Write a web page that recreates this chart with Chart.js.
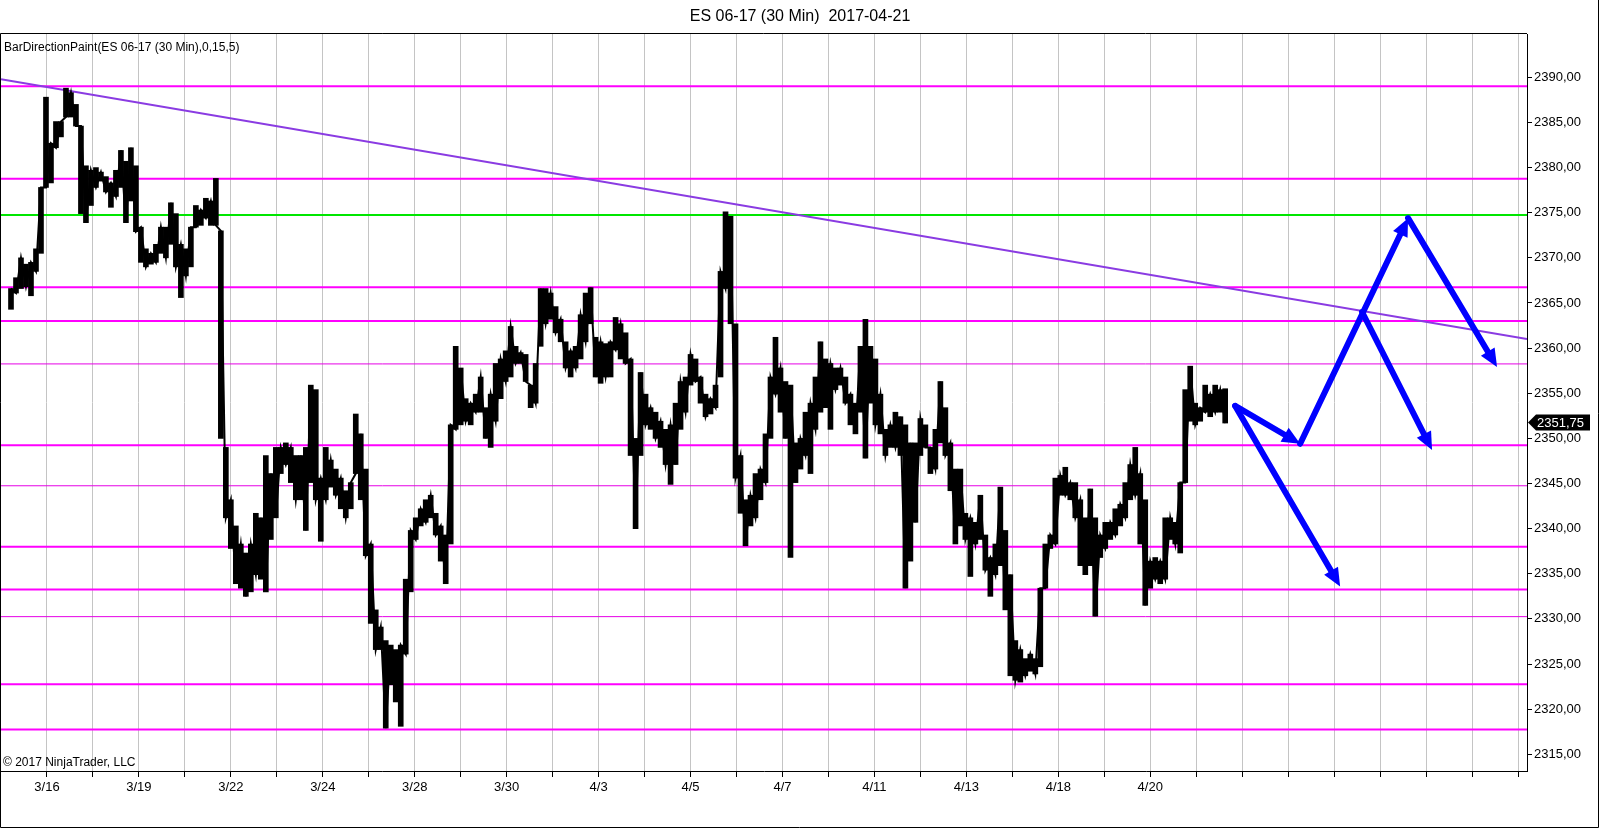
<!DOCTYPE html>
<html>
<head>
<meta charset="utf-8">
<title>ES 06-17 (30 Min)</title>
<script src="https://cdn.jsdelivr.net/npm/chart.js@4/dist/chart.umd.min.js"></script>
<style>
  html, body { margin: 0; padding: 0; background: #fff; }
  canvas { display: block; }
</style>
</head>
<body>
<canvas id="myChart" width="1600" height="828"></canvas>
<script>
// ES 06-17, 30 min bars (one sample every 5 bars)
const firstBar = 10;
const barStep = 5;
const priceHigh = [
  2366.6, 2367.8, 2370.0, 2369.3, 2369.5, 2371.0, 2377.8, 2387.8, 2382.7, 2385.1,
  2385.1, 2388.8, 2388.3, 2387.0, 2384.6, 2380.2, 2379.7, 2380.0, 2379.5, 2379.0,
  2378.3, 2379.7, 2381.9, 2380.7, 2382.2, 2380.2, 2373.4, 2371.0, 2370.5, 2371.5,
  2373.4, 2373.4, 2376.1, 2374.9, 2371.5, 2371.0, 2373.4, 2375.8, 2375.3, 2376.6,
  2376.3, 2378.8, 2373.0, 2349.0, 2343.2, 2340.3, 2338.3, 2337.3, 2338.3, 2341.7,
  2341.2, 2348.1, 2346.1, 2349.0, 2349.0, 2349.5, 2349.0, 2348.1, 2348.1, 2349.0,
  2355.9, 2355.4, 2345.6, 2349.0, 2347.6, 2346.6, 2345.6, 2344.2, 2345.1, 2352.7,
  2350.5, 2346.6, 2338.3, 2331.0, 2329.1, 2327.6, 2327.1, 2326.6, 2327.1, 2334.4,
  2339.8, 2341.2, 2342.2, 2343.2, 2343.7, 2341.7, 2340.3, 2339.3, 2351.5, 2360.2,
  2357.8, 2354.4, 2353.9, 2354.9, 2356.8, 2353.4, 2354.9, 2358.3, 2358.8, 2359.7,
  2362.4, 2360.2, 2359.5, 2359.3, 2355.9, 2358.3, 2366.6, 2366.6, 2366.1, 2364.6,
  2363.2, 2360.7, 2359.7, 2360.2, 2363.7, 2366.1, 2366.7, 2361.2, 2360.7, 2360.5,
  2360.7, 2363.4, 2362.7, 2361.7, 2358.8, 2350.0, 2357.3, 2354.9, 2353.4, 2352.9,
  2351.9, 2351.0, 2351.5, 2353.9, 2356.3, 2356.8, 2359.3, 2358.8, 2356.8, 2354.9,
  2354.4, 2355.9, 2368.5, 2375.1, 2374.6, 2362.7, 2348.1, 2343.2, 2343.7, 2346.1,
  2346.6, 2350.5, 2356.8, 2361.2, 2357.8, 2356.3, 2355.9, 2349.5, 2350.0, 2352.9,
  2353.9, 2356.8, 2360.7, 2358.8, 2358.3, 2357.8, 2357.8, 2356.8, 2354.9, 2353.9,
  2360.2, 2363.2, 2360.2, 2358.8, 2354.9, 2351.0, 2351.5, 2352.9, 2352.4, 2351.5,
  2349.5, 2349.5, 2352.2, 2351.5, 2349.0, 2351.0, 2356.3, 2353.4, 2349.5, 2346.6,
  2346.6, 2341.7, 2341.2, 2340.7, 2343.7, 2339.3, 2336.8, 2338.3, 2344.6, 2339.8,
  2334.9, 2327.6, 2326.6, 2325.6, 2326.1, 2325.6, 2333.4, 2338.3, 2339.3, 2345.6,
  2345.9, 2346.8, 2345.1, 2345.1, 2343.2, 2341.2, 2344.4, 2341.2, 2339.3, 2340.7,
  2340.7, 2342.2, 2342.7, 2345.1, 2347.1, 2349.0, 2346.1, 2343.2, 2336.4, 2336.8,
  2336.4, 2341.2, 2341.2, 2340.7, 2345.1, 2355.4, 2358.0, 2353.9, 2353.4, 2355.9,
  2354.9, 2355.9, 2355.4, 2355.5
];
const priceLow = [
  2364.3, 2366.1, 2366.6, 2366.8, 2365.8, 2368.5, 2370.5, 2377.8, 2378.3, 2382.2,
  2383.4, 2385.6, 2385.6, 2384.6, 2374.9, 2373.9, 2375.8, 2377.8, 2378.5, 2377.3,
  2375.6, 2376.8, 2377.8, 2373.9, 2376.3, 2372.9, 2369.5, 2369.0, 2369.3, 2369.5,
  2370.5, 2370.0, 2371.5, 2369.0, 2365.6, 2368.0, 2369.0, 2373.4, 2373.6, 2374.4,
  2373.6, 2373.6, 2350.0, 2341.2, 2337.8, 2333.9, 2333.4, 2332.5, 2333.0, 2334.9,
  2334.4, 2333.0, 2338.8, 2341.2, 2346.1, 2347.1, 2345.1, 2343.2, 2343.2, 2339.8,
  2345.1, 2343.2, 2338.6, 2343.2, 2344.6, 2343.7, 2342.2, 2341.2, 2342.2, 2346.1,
  2343.2, 2337.0, 2329.5, 2326.6, 2326.6, 2317.9, 2322.7, 2320.8, 2318.1, 2326.1,
  2333.0, 2338.8, 2340.3, 2340.7, 2341.2, 2339.3, 2336.4, 2333.9, 2338.3, 2351.0,
  2351.5, 2351.9, 2351.5, 2352.9, 2352.9, 2350.0, 2349.0, 2351.9, 2354.4, 2356.3,
  2356.8, 2358.3, 2358.3, 2356.3, 2353.4, 2353.9, 2360.2, 2362.7, 2363.2, 2361.7,
  2360.7, 2357.8, 2356.8, 2357.8, 2358.8, 2360.7, 2362.7, 2356.8, 2356.1, 2356.8,
  2356.8, 2359.8, 2358.8, 2358.3, 2348.1, 2340.0, 2348.1, 2351.5, 2351.0, 2350.0,
  2349.0, 2347.1, 2344.9, 2347.1, 2351.0, 2352.9, 2355.9, 2356.3, 2353.9, 2352.4,
  2352.7, 2353.4, 2356.8, 2366.6, 2362.7, 2345.6, 2341.7, 2338.1, 2340.3, 2341.2,
  2343.2, 2345.1, 2350.0, 2354.9, 2352.9, 2350.0, 2336.8, 2345.1, 2346.6, 2348.1,
  2346.1, 2351.0, 2352.9, 2353.4, 2351.0, 2355.4, 2355.9, 2353.9, 2351.5, 2350.5,
  2352.9, 2347.8, 2353.9, 2351.5, 2350.5, 2348.1, 2349.0, 2349.0, 2348.1, 2333.4,
  2336.4, 2340.7, 2348.1, 2349.0, 2346.1, 2346.6, 2349.5, 2348.1, 2344.2, 2338.3,
  2340.3, 2338.8, 2334.7, 2338.3, 2338.8, 2335.4, 2332.5, 2334.9, 2335.9, 2331.0,
  2323.7, 2323.2, 2323.0, 2323.7, 2324.2, 2323.9, 2324.7, 2333.4, 2337.8, 2338.3,
  2343.7, 2343.7, 2343.2, 2341.2, 2335.9, 2334.9, 2335.9, 2330.3, 2336.8, 2337.8,
  2338.8, 2339.3, 2340.3, 2341.2, 2343.2, 2343.7, 2338.3, 2331.5, 2333.4, 2334.4,
  2333.9, 2334.4, 2338.8, 2338.3, 2337.3, 2345.1, 2351.9, 2351.5, 2351.9, 2352.9,
  2352.4, 2352.9, 2352.9, 2351.7
];
const lastPrice = 2351.75;

// horizontal levels drawn on the chart
const magentaLevels = [2389.0, 2378.75, 2366.75, 2363.0, 2349.25, 2338.0, 2333.25, 2322.75, 2317.75];
const thinMagentaLevels = [2358.25, 2344.75, 2330.25];
const greenLevels = [2374.75];

// trend line (bar, price)
const trendBars = [0, 1527];
const trendPrices = [2389.8, 2361.0];

// projection arrows
const arrowFromBar = [1235, 1300, 1362, 1408, 1235];
const arrowFromPrice = [2353.6, 2349.4, 2364.0, 2374.4, 2353.6];
const arrowToBar = [1300, 1408, 1432, 1497, 1340];
const arrowToPrice = [2349.4, 2374.4, 2348.7, 2357.9, 2333.6];

// x axis : one grid line per session, date label every other one
const dayBars = [46, 92, 138, 184, 230, 276, 322, 368, 414, 460, 506, 552, 598, 644, 690, 736,
  782, 828, 874, 920, 966, 1012, 1058, 1104, 1150, 1196, 1242, 1288, 1334, 1380, 1426, 1472, 1518];
const labelBars = [46, 138, 230, 322, 414, 506, 598, 690, 782, 874, 966, 1058, 1150];
const dateLabels = ["3/16", "3/19", "3/22", "3/24", "3/28", "3/30", "4/3", "4/5", "4/7", "4/11", "4/13", "4/18", "4/20"];
const yTicks = [2315, 2320, 2325, 2330, 2335, 2340, 2345, 2350, 2355, 2360, 2365, 2370, 2375, 2380, 2385, 2390];

const chartEndBar = 1527;
const FONT = "'Liberation Sans', Arial, sans-serif";

// build the bar data
const priceData = [];
// zigzag hi/lo path so consecutive samples join up like the dense 30 min bars
const zigzag = [];
for (let i = 0; i < priceHigh.length; i++) {
  const bar = firstBar + i * barStep;
  priceData.push({ x: bar, y: [priceLow[i], priceHigh[i]] });
  zigzag.push({ x: bar, y: i % 2 === 0 ? priceHigh[i] : priceLow[i] });
}

function levelDataset(v, color, width) {
  return {
    type: "line",
    data: [{ x: 0, y: v }, { x: chartEndBar, y: v }],
    borderColor: color,
    borderWidth: width,
    pointRadius: 0,
    fill: false,
    order: 2,
  };
}

const datasets = [
  {
    type: "bar",
    label: "ES 06-17",
    data: priceData,
    backgroundColor: "#000",
    borderWidth: 0,
    barThickness: 5,
    order: 0,
  },
  {
    type: "line",
    data: zigzag,
    borderColor: "#000",
    borderWidth: 2,
    pointRadius: 0,
    fill: false,
    order: 0,
  },
];
magentaLevels.forEach((v) => datasets.push(levelDataset(v, "#ff00ff", 2)));
thinMagentaLevels.forEach((v) => datasets.push(levelDataset(v, "#e600e6", 1)));
greenLevels.forEach((v) => datasets.push(levelDataset(v, "#00e600", 2)));
datasets.push({
  type: "line",
  data: trendBars.map((b, i) => ({ x: b, y: trendPrices[i] })),
  borderColor: "#8a3be2",
  borderWidth: 2,
  pointRadius: 0,
  fill: false,
  order: 1,
});

// arrows, frame and texts
const overlay = {
  id: "overlay",
  afterDatasetsDraw(chart) {
    const ctx = chart.ctx;
    const xs = chart.scales.x;
    const ys = chart.scales.y;
    ctx.save();
    ctx.strokeStyle = "#0000ff";
    ctx.fillStyle = "#0000ff";
    for (let i = 0; i < arrowFromBar.length; i++) {
      const x1 = xs.getPixelForValue(arrowFromBar[i]);
      const y1 = ys.getPixelForValue(arrowFromPrice[i]);
      const x2 = xs.getPixelForValue(arrowToBar[i]);
      const y2 = ys.getPixelForValue(arrowToPrice[i]);
      const a = Math.atan2(y2 - y1, x2 - x1);
      const head = 18, half = 8;
      const bx = x2 - head * Math.cos(a);
      const by = y2 - head * Math.sin(a);
      ctx.lineWidth = 6;
      ctx.lineCap = "round";
      ctx.beginPath();
      ctx.moveTo(x1, y1);
      ctx.lineTo(bx + 4 * Math.cos(a), by + 4 * Math.sin(a));
      ctx.stroke();
      ctx.beginPath();
      ctx.moveTo(x2, y2);
      ctx.lineTo(bx + half * Math.sin(a), by - half * Math.cos(a));
      ctx.lineTo(bx - half * Math.sin(a), by + half * Math.cos(a));
      ctx.closePath();
      ctx.fill();
    }
    ctx.restore();
  },
  afterDraw(chart) {
    const ctx = chart.ctx;
    const area = chart.chartArea;
    const ys = chart.scales.y;
    ctx.save();
    ctx.strokeStyle = "#000";
    ctx.lineWidth = 1;
    // plot frame
    ctx.beginPath();
    ctx.moveTo(0.5, area.bottom);
    ctx.lineTo(0.5, area.top - 0.5);
    ctx.lineTo(area.right, area.top - 0.5);
    ctx.stroke();
    // window frame
    ctx.beginPath();
    ctx.moveTo(0.5, area.bottom);
    ctx.lineTo(0.5, chart.height - 0.5);
    ctx.lineTo(chart.width - 1.5, chart.height - 0.5);
    ctx.lineTo(chart.width - 1.5, 0);
    ctx.stroke();

    // title
    ctx.fillStyle = "#000";
    ctx.font = "16px " + FONT;
    ctx.textAlign = "center";
    ctx.textBaseline = "middle";
    ctx.fillText("ES 06-17 (30 Min)  2017-04-21", chart.width / 2, 17);

    ctx.font = "12px " + FONT;
    ctx.textAlign = "left";
    ctx.fillText("BarDirectionPaint(ES 06-17 (30 Min),0,15,5)", 4, 48);
    ctx.fillText("\u00a9 2017 NinjaTrader, LLC", 3, 763);

    // last price marker
    const py = ys.getPixelForValue(lastPrice);
    const x0 = area.right;
    ctx.fillStyle = "#000";
    ctx.beginPath();
    ctx.moveTo(x0 + 1, py);
    ctx.lineTo(x0 + 9, py - 8);
    ctx.lineTo(x0 + 63, py - 8);
    ctx.lineTo(x0 + 63, py + 8);
    ctx.lineTo(x0 + 9, py + 8);
    ctx.closePath();
    ctx.fill();
    ctx.fillStyle = "#fff";
    ctx.font = "13px " + FONT;
    ctx.fillText(lastPrice.toFixed(2).replace(".", ","), x0 + 10, py + 1);
    ctx.restore();
  },
};

const config = {
  type: "bar",
  data: { datasets: datasets },
  options: {
    responsive: false,
    devicePixelRatio: 1,
    animation: false,
    layout: { padding: { left: 1, top: 34, right: 0, bottom: 0 } },
    plugins: {
      legend: { display: false },
      tooltip: { enabled: false },
      title: { display: false },
    },
    scales: {
      x: {
        type: "linear",
        min: 0,
        max: chartEndBar,
        offset: false,
        afterBuildTicks: (scale) => {
          scale.ticks = dayBars.map((v) => ({ value: v }));
        },
        afterFit: (scale) => {
          scale.height = 57;
        },
        grid: {
          offset: false,
          color: "#c4c4c4",
          lineWidth: 1,
          drawOnChartArea: true,
          drawTicks: true,
          tickLength: 6,
          tickColor: "#000",
        },
        border: { display: true, color: "#000", width: 1 },
        ticks: {
          autoSkip: false,
          maxRotation: 0,
          minRotation: 0,
          padding: 3,
          color: "#000",
          font: { family: FONT, size: 13 },
          callback: (value) => {
            const k = labelBars.indexOf(value);
            return k >= 0 ? dateLabels[k] : "";
          },
        },
      },
      y: {
        type: "linear",
        position: "right",
        min: 2313.15,
        max: 2394.8,
        afterBuildTicks: (scale) => {
          scale.ticks = yTicks.map((v) => ({ value: v }));
        },
        afterFit: (scale) => {
          scale.width = 73;
        },
        grid: {
          drawOnChartArea: false,
          drawTicks: true,
          tickLength: 5,
          tickColor: "#000",
        },
        border: { display: true, color: "#000", width: 1 },
        ticks: {
          padding: 2,
          color: "#000",
          font: { family: FONT, size: 13 },
          callback: (value) => value.toFixed(2).replace(".", ","),
        },
      },
    },
  },
  plugins: [overlay],
};

const context = document.getElementById("myChart").getContext("2d");
const chart = new Chart(context, config);
</script>
</body>
</html>
